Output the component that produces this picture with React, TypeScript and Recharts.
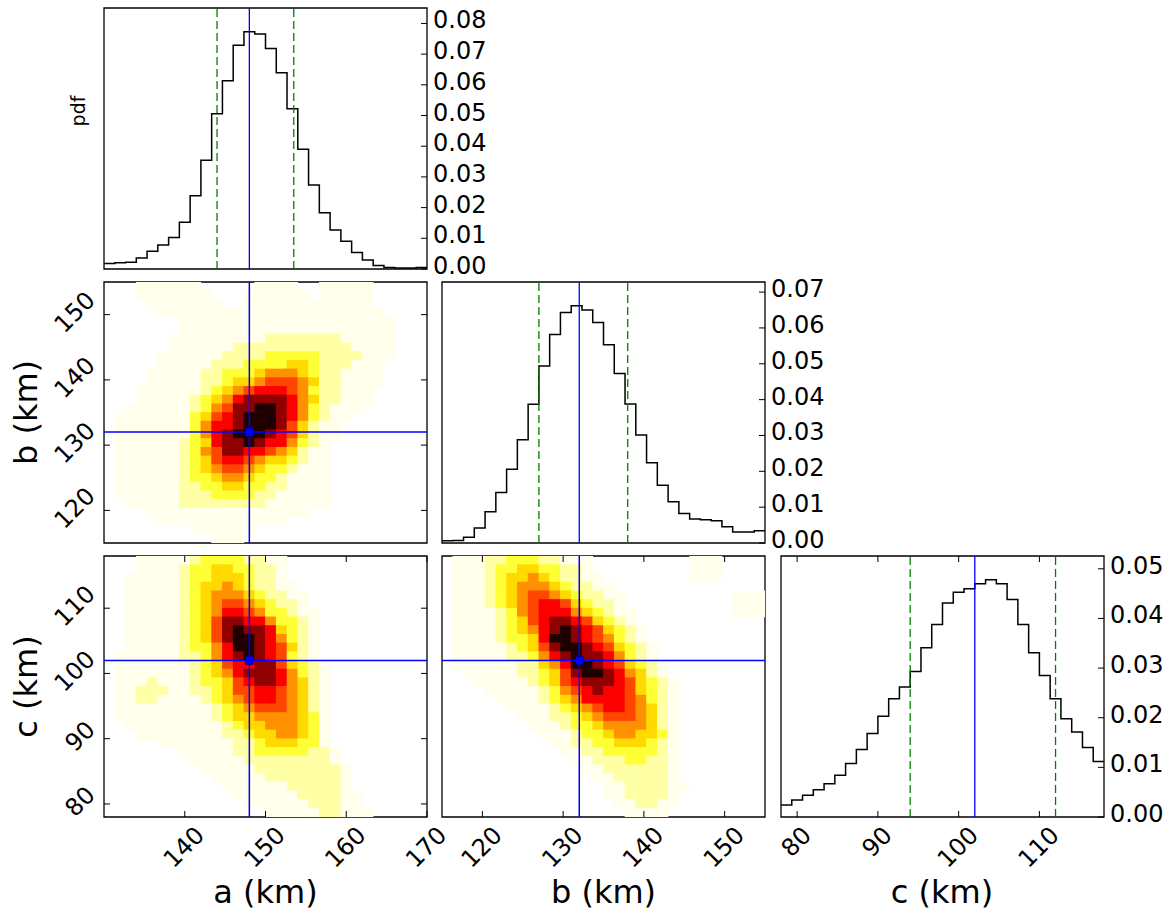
import React from "react";
import {
  LineChart,
  Line,
  ScatterChart,
  Scatter,
  XAxis,
  YAxis,
  ReferenceLine,
  ReferenceArea,
} from "recharts";

const FONT = "DejaVu Sans";

// ---------- data ----------
const aRange: [number, number] = [130, 170];
const bRange: [number, number] = [115, 155];
const cRange: [number, number] = [78, 118];

// 30-bin normalised histograms (pdf)
const histA = [
  0.0018, 0.002, 0.0022, 0.0036, 0.0058, 0.0078, 0.0103, 0.0152, 0.0239, 0.0354,
  0.0506, 0.0613, 0.0729, 0.0773, 0.0766, 0.0718, 0.0639, 0.0522, 0.039, 0.0274,
  0.0183, 0.0127, 0.009, 0.0054, 0.0029, 0.0011, 0.0005, 0.0003, 0.0003, 0.0005,
];
const histB = [
  0.0006, 0.0007, 0.0016, 0.0042, 0.0087, 0.0141, 0.0206, 0.0288, 0.0387, 0.0494,
  0.0582, 0.0643, 0.0662, 0.065, 0.0615, 0.0553, 0.0473, 0.0388, 0.0301, 0.0224,
  0.0161, 0.0115, 0.0082, 0.0067, 0.0065, 0.0062, 0.0045, 0.0031, 0.0031, 0.0034,
];
const histC = [
  0.0024, 0.0034, 0.0044, 0.0055, 0.0067, 0.0084, 0.0108, 0.0136, 0.0168, 0.0203,
  0.0238, 0.0262, 0.0293, 0.0341, 0.0388, 0.0431, 0.0453, 0.046, 0.047, 0.0478,
  0.047, 0.0438, 0.0388, 0.0331, 0.0285, 0.0238, 0.0198, 0.0171, 0.014, 0.0112,
];

// best value and 1-sigma bounds
const aBest = 148, aLow = 144, aHigh = 153.5;
const bBest = 132, bLow = 127, bHigh = 138;
const cBest = 102, cLow = 94, cHigh = 112;

// tick values
const pdfTicksA = [0, 0.01, 0.02, 0.03, 0.04, 0.05, 0.06, 0.07, 0.08];
const pdfTicksB = [0, 0.01, 0.02, 0.03, 0.04, 0.05, 0.06, 0.07];
const pdfTicksC = [0, 0.01, 0.02, 0.03, 0.04, 0.05];
const aTicks = [140, 150, 160, 170];
const bTicks = [120, 130, 140, 150];
const cTicks = [80, 90, 100, 110];

// 2-D density levels (0 = empty .. 9 = max), rows listed from top (high y) to bottom
const heatAB = [
  "000111111000001111001111100000",
  "000111111100011111101111100000",
  "000011111110011111111111100000",
  "000001111111111111111111110000",
  "000000011111111111111111111000",
  "000000011111111111111111111000",
  "000000111111111222222211111000",
  "000000111111222222222221111000",
  "000001111112222333332222111000",
  "000001111122233334432221110000",
  "000011111223334555432211110000",
  "000011111223445666542211110000",
  "000111111234567776532211100000",
  "000111112345788887542211100000",
  "001111112356889987532111000000",
  "011111113467899987532110000000",
  "011111113577899986421100000000",
  "011111113578999876421100000000",
  "011111123478898775321000000000",
  "011111123568877654211000000000",
  "011111123467765443211000000000",
  "011111123456654332111000000000",
  "011111123345543321111000000000",
  "011111122334433221111000000000",
  "011111122233332211111000000000",
  "001111122222222111111000000000",
  "000011111111111111100000000000",
  "000001111111111110000000000000",
  "000000001111110000000000000000",
  "000000000011100000000000000000",
];
const heatAC = [
  "000111112333322110000000000000",
  "000111123344332210000000000000",
  "001111123344432210000000000000",
  "001111123445432211000000000000",
  "001111123455543221100000000000",
  "001111123456654322100000000000",
  "001111123457765332110000000000",
  "001111123468877533210000000000",
  "001111123468988743210000000000",
  "001111123468998753210000000000",
  "001111123357998764210000000000",
  "011111122357898763210000000000",
  "011111112346778864321000000000",
  "011111112345788875321000000000",
  "011121112334678875421000000000",
  "011222112234667765421000000000",
  "011221111234567765421000000000",
  "011111111123456665421000000000",
  "011111111123445555431000000000",
  "001111111112344555431000000000",
  "000111111112234455431000000000",
  "000001111111223444331000000000",
  "000000011111223333322100000000",
  "000000001111122222222100000000",
  "000000000111112222222210000000",
  "000000000011111222222210000000",
  "000000000001111112222210000000",
  "000000000000111111222211000000",
  "000000000000011111122211000000",
  "000000000000000111112211100000",
];
const heatBC = [
  "011122333221110000000001110000",
  "011123344332210000000001110000",
  "011123445432211000000001110000",
  "011123455543221100000000000000",
  "011123456654322110000000000111",
  "011123456776432210000000000111",
  "011112356777543211000000000111",
  "011112346788764321000000000000",
  "011112345789876432100000000000",
  "011112334799876532100000000000",
  "011111234689987643210000000000",
  "011111223578988753210000000000",
  "011111122457998764321000000000",
  "001111122346899875421000000000",
  "000111112346788876432100000000",
  "000011111235678776432100000000",
  "000001111234577776532100000000",
  "000000111123456776542100000000",
  "000000011122345666542100000000",
  "000000001112334555542100000000",
  "000000000111233455443100000000",
  "000000000011223344432100000000",
  "000000000001122333332100000000",
  "000000000000112223322100000000",
  "000000000000011222222100000000",
  "000000000000001122222100000000",
  "000000000000000112222110000000",
  "000000000000000112222100000000",
  "000000000000000011221100000000",
  "000000000000000001111000000000",
];

// ---------- colormap (matplotlib hot_r) ----------
const LEVEL_VALUE = [0, 0.02, 0.09, 0.2, 0.31, 0.42, 0.53, 0.64, 0.8, 0.97];
function hotR(v: number): string {
  const x = 1 - v;
  const r = x < 0.365079 ? 0.0416 + ((1 - 0.0416) * x) / 0.365079 : 1;
  const g = x < 0.365079 ? 0 : x < 0.746032 ? (x - 0.365079) / (0.746032 - 0.365079) : 1;
  const b = x < 0.746032 ? 0 : (x - 0.746032) / (1 - 0.746032);
  return `rgb(${Math.round(r * 255)},${Math.round(g * 255)},${Math.round(b * 255)})`;
}
const LEVEL_COLORS = LEVEL_VALUE.map(hotR);

// ---------- layout ----------
const PW = 323;
const PH = 261;
const COL_X = [104, 442, 780.5];
const ROW_Y = [8, 282, 556];
const M = { top: 8, right: 64, bottom: 60, left: 100 };
const CW = PW + M.left + M.right;
const CH = PH + M.top + M.bottom;
const TICK = 6;
const TICK_FS = 24;
const DIGIT_W = 0.636 * TICK_FS;

function chartPos(col: number, row: number): React.CSSProperties {
  return { position: "absolute", left: COL_X[col] - M.left, top: ROW_Y[row] - M.top };
}
function marginFor(left: boolean, right: boolean, bottom: boolean) {
  return {
    top: M.top,
    left: M.left - (left ? 1 : 0),
    right: M.right - (right ? 1 : 0),
    bottom: M.bottom - (bottom ? 1 : 0),
  };
}

// ---------- builders ----------
function buildHist(vals: number[], range: [number, number]) {
  const w = (range[1] - range[0]) / vals.length;
  const pts = vals.map((v, i) => ({ x: range[0] + i * w, v }));
  pts.push({ x: range[1], v: vals[vals.length - 1] });
  return pts;
}

function buildHeat(rows: string[], xr: [number, number], yr: [number, number]) {
  const nr = rows.length;
  const nc = 30;
  const dx = (xr[1] - xr[0]) / nc;
  const dy = (yr[1] - yr[0]) / nr;
  const out: { x: number; y: number; lvl: number }[] = [];
  rows.forEach((rowRaw, j) => {
    const row = rowRaw.padEnd(nc, "0").slice(0, nc);
    for (let i = 0; i < nc; i++) {
      const lvl = Number(row[i]);
      if (lvl > 0) out.push({ x: xr[0] + (i + 0.5) * dx, y: yr[1] - (j + 0.5) * dy, lvl });
    }
  });
  return out;
}

// ---------- tick renderers ----------
const RightPdfTick = (props: any) => {
  const { y, payload } = props;
  const xr = M.left + PW;
  return (
    <g>
      <line x1={xr} x2={xr - TICK} y1={y} y2={y} stroke="#000" strokeWidth={1} />
      <text
        x={xr + 6}
        y={y - 3}
        textAnchor="start"
        dominantBaseline="central"
        fontSize={TICK_FS}
        fontFamily={FONT}
        fill="#000"
      >
        {Number(payload.value).toFixed(2)}
      </text>
    </g>
  );
};

const LeftRotTick = (props: any) => {
  const { y, payload } = props;
  const xl = M.left;
  const xr = M.left + PW;
  const label = String(payload.value);
  const L = DIGIT_W * label.length - 2;
  const px = xl - 13;
  const py = y - 3 - L * 0.354;
  return (
    <g>
      <line x1={xl} x2={xl + TICK} y1={y} y2={y} stroke="#000" strokeWidth={1} />
      <line x1={xr} x2={xr - TICK} y1={y} y2={y} stroke="#000" strokeWidth={1} />
      <text
        x={px}
        y={py}
        textAnchor="end"
        dominantBaseline="central"
        transform={`rotate(-45 ${px} ${py})`}
        fontSize={TICK_FS}
        fontFamily={FONT}
        fill="#000"
      >
        {label}
      </text>
    </g>
  );
};

const BottomRotTick = (props: any) => {
  const { x, payload } = props;
  const yb = M.top + PH;
  const yt = M.top;
  const label = String(payload.value);
  const L = DIGIT_W * label.length - 2;
  const px = x + L * 0.354;
  const py = yb + 14;
  return (
    <g>
      <line x1={x} x2={x} y1={yb} y2={yb - TICK} stroke="#000" strokeWidth={1} />
      <line x1={x} x2={x} y1={yt} y2={yt + TICK} stroke="#000" strokeWidth={1} />
      <text
        x={px}
        y={py}
        textAnchor="end"
        dominantBaseline="central"
        transform={`rotate(-45 ${px} ${py})`}
        fontSize={TICK_FS}
        fontFamily={FONT}
        fill="#000"
      >
        {label}
      </text>
    </g>
  );
};

const CELL_W = PW / 30 + 0.7;
const CELL_H = PH / 30 + 0.7;
const HeatCell = (p: any) => (
  <rect
    x={p.cx - CELL_W / 2}
    y={p.cy - CELL_H / 2}
    width={CELL_W}
    height={CELL_H}
    fill={LEVEL_COLORS[p.payload.lvl]}
    stroke="none"
  />
);
const Marker = (p: any) => (
  <rect x={p.cx - 4} y={p.cy - 4} width={8} height={8} fill="#0000ff" stroke="#000080" strokeWidth={0.6} />
);
const NoPoint = () => <g />;

// ---------- panels ----------
function HistPanel(props: {
  col: number;
  row: number;
  vals: number[];
  range: [number, number];
  yTicks: number[];
  best: number;
  low: number;
  high: number;
  xTicks?: number[];
}) {
  const { col, row, vals, range, yTicks, best, low, high, xTicks } = props;
  const data = buildHist(vals, range);
  const ymax = Math.max(...vals) * 1.1;
  return (
    <div style={chartPos(col, row)}>
      <LineChart width={CW} height={CH} margin={marginFor(false, true, !!xTicks)} data={data}>
        <XAxis
          type="number"
          dataKey="x"
          domain={range}
          allowDataOverflow
          ticks={xTicks ?? []}
          interval={0}
          height={1}
          axisLine={false}
          tickLine={false}
          tickSize={0}
          tickMargin={0}
          tick={xTicks ? BottomRotTick : false}
          hide={!xTicks}
        />
        <YAxis
          orientation="right"
          type="number"
          domain={[0, ymax]}
          allowDataOverflow
          ticks={yTicks}
          interval={0}
          width={1}
          axisLine={false}
          tickLine={false}
          tickSize={0}
          tickMargin={0}
          tick={RightPdfTick}
        />
        <Line
          type="stepAfter"
          dataKey="v"
          stroke="#000"
          strokeWidth={1.5}
          dot={false}
          isAnimationActive={false}
        />
        <ReferenceLine x={best} stroke="#0000ff" strokeWidth={1.3} />
        <ReferenceLine x={low} stroke="#008000" strokeWidth={1.3} strokeDasharray="8 4" />
        <ReferenceLine x={high} stroke="#008000" strokeWidth={1.3} strokeDasharray="8 4" />
        <ReferenceArea
          x1={range[0]}
          x2={range[1]}
          y1={0}
          y2={ymax}
          fill="none"
          fillOpacity={0}
          stroke="#000"
          strokeWidth={1.3}
        />
      </LineChart>
    </div>
  );
}

function HeatPanel(props: {
  col: number;
  row: number;
  rows: string[];
  xr: [number, number];
  yr: [number, number];
  bx: number;
  by: number;
  xTicks?: number[];
  yTicks?: number[];
}) {
  const { col, row, rows, xr, yr, bx, by, xTicks, yTicks } = props;
  const cells = buildHeat(rows, xr, yr);
  const vLine = [
    { x: bx, y: yr[0] },
    { x: bx, y: yr[1] },
  ];
  const hLine = [
    { x: xr[0], y: by },
    { x: xr[1], y: by },
  ];
  return (
    <div style={chartPos(col, row)}>
      <ScatterChart width={CW} height={CH} margin={marginFor(!!yTicks, false, !!xTicks)}>
        <XAxis
          type="number"
          dataKey="x"
          domain={xr}
          allowDataOverflow
          ticks={xTicks ?? []}
          interval={0}
          height={1}
          axisLine={false}
          tickLine={false}
          tickSize={0}
          tickMargin={0}
          tick={xTicks ? BottomRotTick : false}
          hide={!xTicks}
        />
        <YAxis
          type="number"
          dataKey="y"
          domain={yr}
          allowDataOverflow
          ticks={yTicks ?? []}
          interval={0}
          width={1}
          axisLine={false}
          tickLine={false}
          tickSize={0}
          tickMargin={0}
          tick={yTicks ? LeftRotTick : false}
          hide={!yTicks}
        />
        <Scatter data={cells} shape={HeatCell} isAnimationActive={false} />
        <Scatter
          data={vLine}
          shape={NoPoint}
          line={{ stroke: "#0000ff", strokeWidth: 1.5 }}
          isAnimationActive={false}
        />
        <Scatter
          data={hLine}
          shape={NoPoint}
          line={{ stroke: "#0000ff", strokeWidth: 1.5 }}
          isAnimationActive={false}
        />
        <Scatter data={[{ x: bx, y: by }]} shape={Marker} isAnimationActive={false} />
        <ReferenceArea
          x1={xr[0]}
          x2={xr[1]}
          y1={yr[0]}
          y2={yr[1]}
          fill="none"
          fillOpacity={0}
          stroke="#000"
          strokeWidth={1.3}
        />
      </ScatterChart>
    </div>
  );
}

export default function App() {
  const center = (c: number) => COL_X[c] + PW / 2;
  const middle = (r: number) => ROW_Y[r] + PH / 2;
  return (
    <div
      style={{
        position: "relative",
        width: 1168,
        height: 911,
        overflow: "hidden",
        background: "#fff",
        fontFamily: FONT,
      }}
    >
      <style>{"body{margin:0;}"}</style>
      <HistPanel col={0} row={0} vals={histA} range={aRange} yTicks={pdfTicksA} best={aBest} low={aLow} high={aHigh} />
      <HeatPanel col={0} row={1} rows={heatAB} xr={aRange} yr={bRange} bx={aBest} by={bBest} yTicks={bTicks} />
      <HistPanel col={1} row={1} vals={histB} range={bRange} yTicks={pdfTicksB} best={bBest} low={bLow} high={bHigh} />
      <HeatPanel col={0} row={2} rows={heatAC} xr={aRange} yr={cRange} bx={aBest} by={cBest} xTicks={aTicks} yTicks={cTicks} />
      <HeatPanel col={1} row={2} rows={heatBC} xr={bRange} yr={cRange} bx={bBest} by={cBest} xTicks={bTicks} />
      <HistPanel col={2} row={2} vals={histC} range={cRange} yTicks={pdfTicksC} best={cBest} low={cLow} high={cHigh} xTicks={cTicks} />
      <svg
        width={1168}
        height={911}
        style={{ position: "absolute", left: 0, top: 0, pointerEvents: "none" }}
      >
        <g fontFamily={FONT} fill="#000">
          <text x={center(0)} y={903} fontSize={32} textAnchor="middle">a (km)</text>
          <text x={center(1)} y={903} fontSize={32} textAnchor="middle">b (km)</text>
          <text x={center(2)} y={903} fontSize={32} textAnchor="middle">c (km)</text>
          <text
            x={78}
            y={111}
            fontSize={19}
            textAnchor="middle"
            dominantBaseline="central"
            transform="rotate(-90 78 111)"
          >
            pdf
          </text>
          <text
            x={26}
            y={middle(1)}
            fontSize={32}
            textAnchor="middle"
            dominantBaseline="central"
            transform={`rotate(-90 26 ${middle(1)})`}
          >
            b (km)
          </text>
          <text
            x={26}
            y={middle(2)}
            fontSize={32}
            textAnchor="middle"
            dominantBaseline="central"
            transform={`rotate(-90 26 ${middle(2)})`}
          >
            c (km)
          </text>
        </g>
      </svg>
    </div>
  );
}
